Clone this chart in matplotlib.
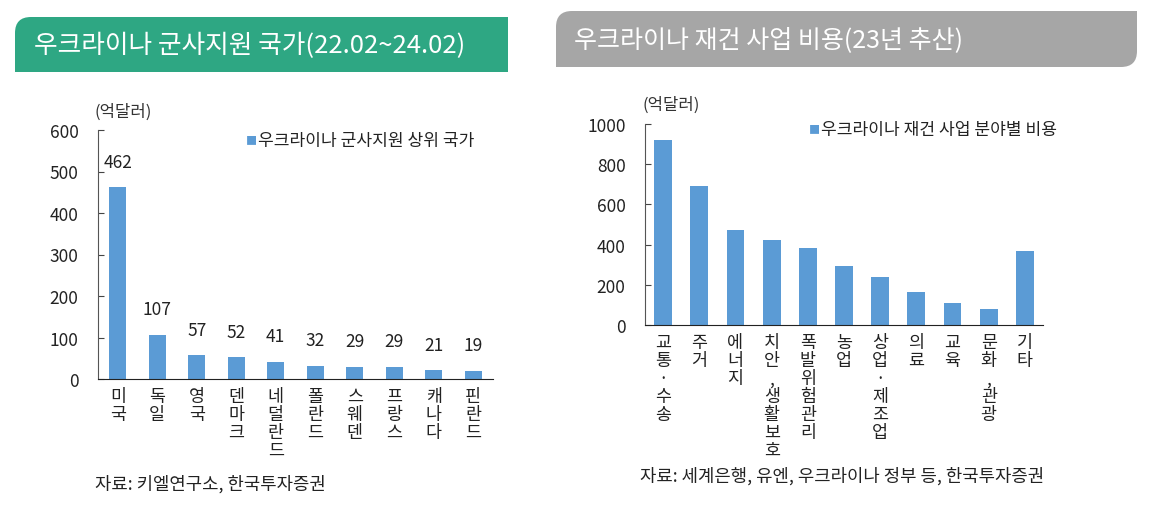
import matplotlib.pyplot as plt
from matplotlib.path import Path
from matplotlib.patches import PathPatch

plt.rcParams['font.family'] = ['Noto Sans CJK KR', 'DejaVu Sans']

# ------------------------- 데이터 -------------------------
left_title = '우크라이나 군사지원 국가(22.02~24.02)'
left_legend = '우크라이나 군사지원 상위 국가'
left_countries = ['미국', '독일', '영국', '덴마크', '네덜란드', '폴란드', '스웨덴', '프랑스', '캐나다', '핀란드']
left_values = [462, 107, 57, 52, 41, 32, 29, 29, 21, 19]
left_yticks = [0, 100, 200, 300, 400, 500, 600]
left_source = '자료: 키엘연구소, 한국투자증권'

right_title = '우크라이나 재건 사업 비용(23년 추산)'
right_legend = '우크라이나 재건 사업 분야별 비용'
right_sectors = ['교통·수송', '주거', '에너지', '치안, 생활보호', '폭발 위험 관리', '농업',
                 '상업·제조업', '의료', '교육', '문화, 관광', '기타']
right_values = [922, 692, 473, 425, 383, 295, 240, 166, 111, 78, 370]
right_yticks = [0, 200, 400, 600, 800, 1000]
right_source = '자료: 세계은행, 유엔, 우크라이나 정부 등, 한국투자증권'

unit = '(억달러)'

BAR = '#5B9BD5'
TXT = '#222222'
W, H = 1153, 510


def vertical(label):
    return '\n'.join(ch for ch in label if ch != ' ')


def rounded_box(ax, x0, y0, x1, y1, r, tl=False, br=False, color='k'):
    # 픽셀 좌표 (y 아래로 증가)
    verts, codes = [], []
    if tl:
        verts += [(x0, y0 + r), (x0, y0), (x0 + r, y0)]
        codes += [Path.MOVETO, Path.CURVE3, Path.CURVE3]
    else:
        verts += [(x0, y0)]
        codes += [Path.MOVETO]
    verts += [(x1, y0)]
    codes += [Path.LINETO]
    if br:
        verts += [(x1, y1 - r), (x1, y1), (x1 - r, y1)]
        codes += [Path.LINETO, Path.CURVE3, Path.CURVE3]
    else:
        verts += [(x1, y1)]
        codes += [Path.LINETO]
    verts += [(x0, y1), (0, 0)]
    codes += [Path.LINETO, Path.CLOSEPOLY]
    ax.add_patch(PathPatch(Path(verts, codes), facecolor=color, edgecolor='none'))


def px(x, y):
    return x / W, 1 - y / H


fig = plt.figure(figsize=(W / 100, H / 100), dpi=100)

# ------------------------- 제목 박스 -------------------------
bg = fig.add_axes([0, 0, 1, 1])
bg.set_xlim(0, W)
bg.set_ylim(H, 0)
bg.axis('off')
rounded_box(bg, 15, 18, 508, 73, 16, tl=True, color='#2EA783')
rounded_box(bg, 556, 12, 1137, 68, 16, tl=True, br=True, color='#A6A6A6')
bg.text(34, 46, left_title, color='white', fontsize=18.5, va='center', ha='left')
bg.text(574, 40, right_title, color='white', fontsize=18, va='center', ha='left')


def draw_panel(rect, labels, values, yticks, legend, ymax, bw, label_vals, leg_xy, unit_xy, src_xy, source):
    ax = fig.add_axes(rect)
    x = range(len(values))
    ax.bar(x, values, width=bw, color=BAR, zorder=2)
    ax.set_xlim(-0.5, len(values) - 0.5)
    ax.set_ylim(0, ymax)
    ax.set_yticks(yticks)
    ax.set_yticklabels([str(t) for t in yticks], fontsize=12.5, color=TXT)
    ax.set_xticks(list(x))
    ax.set_xticklabels([vertical(l) for l in labels], fontsize=12.5, linespacing=1.0,
                       va='top', color=TXT)
    ax.tick_params(axis='x', length=0, pad=6)
    ax.tick_params(axis='y', direction='in', length=4, color='#444444', pad=14)
    for s in ['top', 'right']:
        ax.spines[s].set_visible(False)
    ax.spines['left'].set_color('#555555')
    ax.spines['bottom'].set_color(TXT)
    if label_vals:
        for i, v in enumerate(values):
            ax.annotate(str(v), (i, v), xytext=(0, 12), textcoords='offset points',
                        ha='center', va='bottom', fontsize=12.5, color=TXT)
    lx, ly = leg_xy
    fig.text(*px(lx, ly), '■', fontsize=8, color=BAR, va='center', ha='left')
    fig.text(*px(lx + 12, ly), legend, fontsize=12.3, color=TXT, va='center', ha='left')
    fig.text(*px(*unit_xy), unit, fontsize=12, color='#333333', va='center', ha='left')
    fig.text(*px(*src_xy), source, fontsize=12.8, color=TXT, va='center', ha='left')
    return ax


draw_panel([98 / W, 1 - 380 / H, 395 / W, 249 / H], left_countries, left_values, left_yticks,
           left_legend, 600, 0.43, True, (246, 141), (94, 112), (95, 484), left_source)

draw_panel([645 / W, 1 - 326 / H, 398 / W, 201 / H], right_sectors, right_values, right_yticks,
           right_legend, 1000, 0.49, False, (809, 130), (642, 105), (640, 476), right_source)

fig.savefig('out.png', dpi=100)
